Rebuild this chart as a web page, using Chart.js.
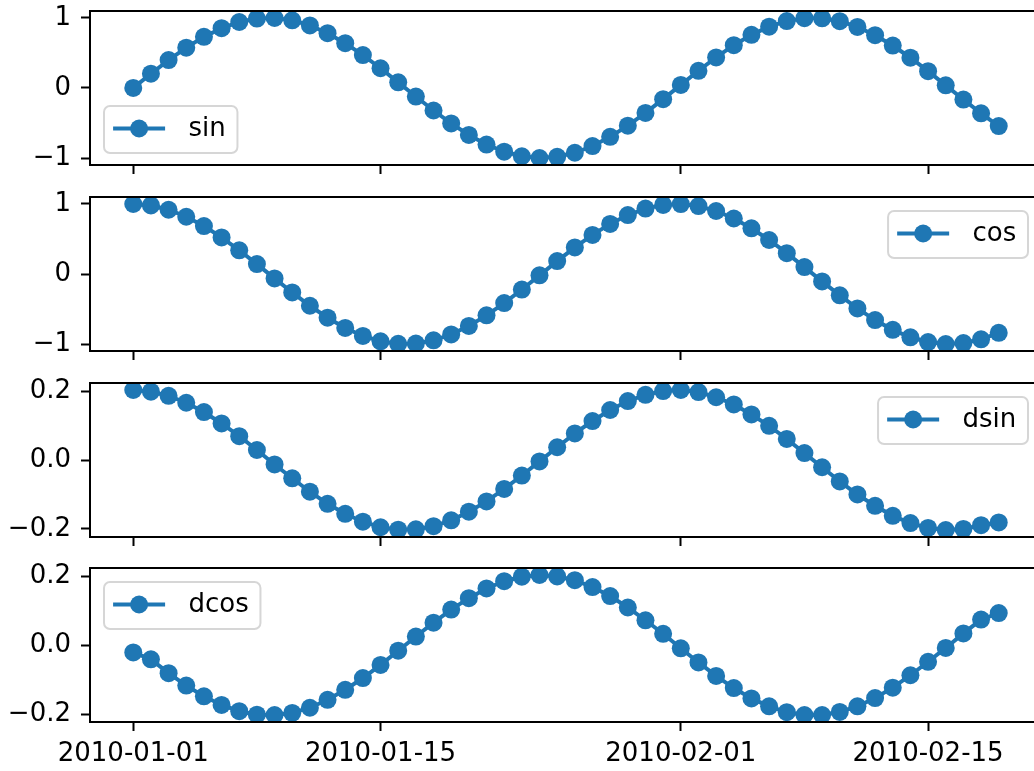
<!DOCTYPE html>
<html>
<head>
<meta charset="utf-8">
<script src="https://cdn.jsdelivr.net/npm/chart.js@4/dist/chart.umd.min.js"></script>
<style>
  html, body { margin: 0; padding: 0; background: #fff; overflow: hidden; width: 1034px; height: 771px; }
  .painel { position: absolute; left: 0; }
</style>
</head>
<body>
<div class="painel" id="p0"><canvas id="c0"></canvas></div>
<div class="painel" id="p1"><canvas id="c1"></canvas></div>
<div class="painel" id="p2"><canvas id="c2"></canvas></div>
<div class="painel" id="p3"><canvas id="c3"></canvas></div>
<script>
// dias desde 2010-01-01 (um ponto por dia)
const dias = Array.from({ length: 50 }, (_, i) => i);

const sinVals = [
  0.000, 0.203, 0.397, 0.575, 0.729, 0.852, 0.941, 0.990, 0.998, 0.965,
  0.892, 0.781, 0.639, 0.469, 0.281, 0.080, -0.123, -0.322, -0.507, -0.671,
  -0.808, -0.910, -0.975, -1.000, -0.983, -0.925, -0.829, -0.698, -0.539, -0.357,
  -0.160, 0.043, 0.245, 0.436, 0.610, 0.758, 0.874, 0.954, 0.995, 0.994,
  0.953, 0.871, 0.753, 0.605, 0.431, 0.239, 0.037, -0.166, -0.363, -0.544
];
const cosVals = [
  1.000, 0.979, 0.918, 0.818, 0.685, 0.523, 0.339, 0.142, -0.062, -0.263,
  -0.453, -0.624, -0.770, -0.883, -0.960, -0.997, -0.992, -0.947, -0.862, -0.741,
  -0.590, -0.414, -0.221, -0.019, 0.185, 0.380, 0.559, 0.716, 0.842, 0.934,
  0.987, 0.999, 0.970, 0.900, 0.793, 0.653, 0.486, 0.298, 0.099, -0.105,
  -0.304, -0.491, -0.657, -0.797, -0.903, -0.971, -0.999, -0.986, -0.932, -0.839
];
const dsinVals = [
  0.203, 0.198, 0.186, 0.166, 0.139, 0.106, 0.069, 0.029, -0.013, -0.053,
  -0.092, -0.127, -0.156, -0.179, -0.195, -0.202, -0.201, -0.192, -0.175, -0.150,
  -0.120, -0.084, -0.045, -0.004, 0.037, 0.077, 0.113, 0.145, 0.171, 0.189,
  0.200, 0.203, 0.197, 0.182, 0.161, 0.132, 0.099, 0.061, 0.020, -0.021,
  -0.062, -0.100, -0.133, -0.162, -0.183, -0.197, -0.203, -0.200, -0.189, -0.181
];
const dcosVals = [
  -0.021, -0.041, -0.081, -0.117, -0.148, -0.173, -0.191, -0.201, -0.202, -0.196,
  -0.181, -0.158, -0.129, -0.095, -0.057, -0.016, 0.025, 0.065, 0.103, 0.136,
  0.164, 0.185, 0.198, 0.203, 0.199, 0.188, 0.168, 0.142, 0.109, 0.072,
  0.033, -0.009, -0.050, -0.089, -0.124, -0.154, -0.177, -0.194, -0.202, -0.202,
  -0.193, -0.177, -0.153, -0.123, -0.087, -0.048, -0.008, 0.034, 0.074, 0.093
];

const tickDias = [0, 14, 31, 45];
const rotulosDatas = ['2010-01-01', '2010-01-15', '2010-02-01', '2010-02-15'];

const ticksUnidade = [-1, 0, 1];
const rotulosUnidade = ['\u22121', '0', '1'];
const ticksDecimo = [-0.2, 0, 0.2];
const rotulosDecimo = ['\u22120.2', '0.0', '0.2'];

const COR = '#1f77b4';
const FONTE = 26;
const PLOT_LEFT = 90;
const PLOT_RIGHT = 1042;
const PLOT_H = 154;
const PAD_TOP = 20;
const LARGURA = 1060;
const topos = [11, 197, 383, 568];

Chart.defaults.font.family = '"DejaVu Sans"';
Chart.defaults.font.size = FONTE;
Chart.defaults.color = '#000';

function caixaArredondada(ctx, x, y, w, h, r) {
  ctx.beginPath();
  ctx.moveTo(x + r, y);
  ctx.arcTo(x + w, y, x + w, y + h, r);
  ctx.arcTo(x + w, y + h, x, y + h, r);
  ctx.arcTo(x, y + h, x, y, r);
  ctx.arcTo(x, y, x + w, y, r);
  ctx.closePath();
}

// moldura dos eixos + legenda dentro da área do gráfico
const molduraLegenda = {
  id: 'molduraLegenda',
  afterDatasetsDraw(chart, args, opts) {
    const { ctx, chartArea: a } = chart;
    ctx.save();
    ctx.lineWidth = 2;
    ctx.strokeStyle = '#000';
    ctx.strokeRect(a.left, a.top, a.right - a.left, a.bottom - a.top);

    const label = chart.data.datasets[0].label;
    ctx.font = FONTE + 'px "DejaVu Sans"';
    const w = 3.7 * FONTE + ctx.measureText(label).width;
    const h = 47;
    const x = opts.pos.includes('left') ? a.left + 14 : a.right - 14 - w;
    const y = opts.pos.includes('upper') ? a.top + 14 : a.bottom - 12 - h;

    caixaArredondada(ctx, x, y, w, h, 6);
    ctx.fillStyle = 'rgba(255,255,255,0.8)';
    ctx.fill();
    ctx.strokeStyle = 'rgba(204,204,204,0.8)';
    ctx.lineWidth = 2;
    ctx.stroke();

    const cy = y + h / 2 - 1;
    const hx = x + 0.35 * FONTE;
    ctx.strokeStyle = COR;
    ctx.lineWidth = 4;
    ctx.beginPath();
    ctx.moveTo(hx, cy);
    ctx.lineTo(hx + 2 * FONTE, cy);
    ctx.stroke();
    ctx.fillStyle = COR;
    ctx.beginPath();
    ctx.arc(hx + FONTE, cy, 9, 0, 2 * Math.PI);
    ctx.fill();

    ctx.fillStyle = '#000';
    ctx.textAlign = 'left';
    ctx.textBaseline = 'middle';
    ctx.fillText(label, hx + 2.9 * FONTE, y + h / 2);
    ctx.restore();
  }
};

function limites(vals) {
  const lo = Math.min(...vals);
  const hi = Math.max(...vals);
  const m = (hi - lo) * 0.05;
  return [lo - m, hi + m];
}

function criarPainel(idx, label, valores, yTicks, yRotulos, pos, comDatas) {
  const alturaEixoX = comDatas ? 50 : 12;
  const altura = PAD_TOP + PLOT_H + alturaEixoX;
  const div = document.getElementById('p' + idx);
  div.style.top = (topos[idx] - PAD_TOP) + 'px';
  const canvas = document.getElementById('c' + idx);
  canvas.width = LARGURA;
  canvas.height = altura;

  const [yMin, yMax] = limites(valores);
  const margemX = (dias[dias.length - 1] - dias[0]) * 0.05;
  const grade = { drawOnChartArea: false, drawTicks: true, tickLength: 9, tickWidth: 2, tickColor: '#000' };

  return new Chart(canvas.getContext('2d'), {
    type: 'line',
    data: {
      datasets: [{
        label: label,
        data: valores.map((v, i) => ({ x: dias[i], y: v })),
        borderColor: COR,
        backgroundColor: COR,
        borderWidth: 4,
        pointRadius: 9,
        pointBorderWidth: 0,
        pointBackgroundColor: COR,
        tension: 0,
        clip: 0
      }]
    },
    options: {
      responsive: false,
      animation: false,
      events: [],
      layout: { padding: { top: PAD_TOP, right: LARGURA - PLOT_RIGHT, left: 0, bottom: 0 } },
      plugins: {
        legend: { display: false },
        tooltip: { enabled: false },
        molduraLegenda: { pos: pos }
      },
      scales: {
        x: {
          type: 'linear',
          min: dias[0] - margemX,
          max: dias[dias.length - 1] + margemX,
          afterBuildTicks: s => { s.ticks = tickDias.map(v => ({ value: v })); },
          afterFit: s => {
            s.height = alturaEixoX;
            s.paddingLeft = 0;
            s.paddingRight = 0;
          },
          grid: grade,
          border: { display: false },
          ticks: {
            display: comDatas,
            padding: 8,
            maxRotation: 0,
            autoSkip: false,
            callback: (v, i) => rotulosDatas[i]
          }
        },
        y: {
          min: yMin,
          max: yMax,
          afterBuildTicks: s => { s.ticks = yTicks.map(v => ({ value: v })); },
          afterFit: s => {
            s.width = PLOT_LEFT;
            s.paddingTop = 0;
            s.paddingBottom = 0;
          },
          grid: grade,
          border: { display: false },
          ticks: {
            padding: 10,
            autoSkip: false,
            callback: (v, i) => yRotulos[i]
          }
        }
      }
    },
    plugins: [molduraLegenda]
  });
}

document.addEventListener('DOMContentLoaded', () => {
  criarPainel(0, 'sin', sinVals, ticksUnidade, rotulosUnidade, 'lower left', false);
  criarPainel(1, 'cos', cosVals, ticksUnidade, rotulosUnidade, 'upper right', false);
  criarPainel(2, 'dsin', dsinVals, ticksDecimo, rotulosDecimo, 'upper right', false);
  criarPainel(3, 'dcos', dcosVals, ticksDecimo, rotulosDecimo, 'upper left', true);
});
</script>
</body>
</html>
